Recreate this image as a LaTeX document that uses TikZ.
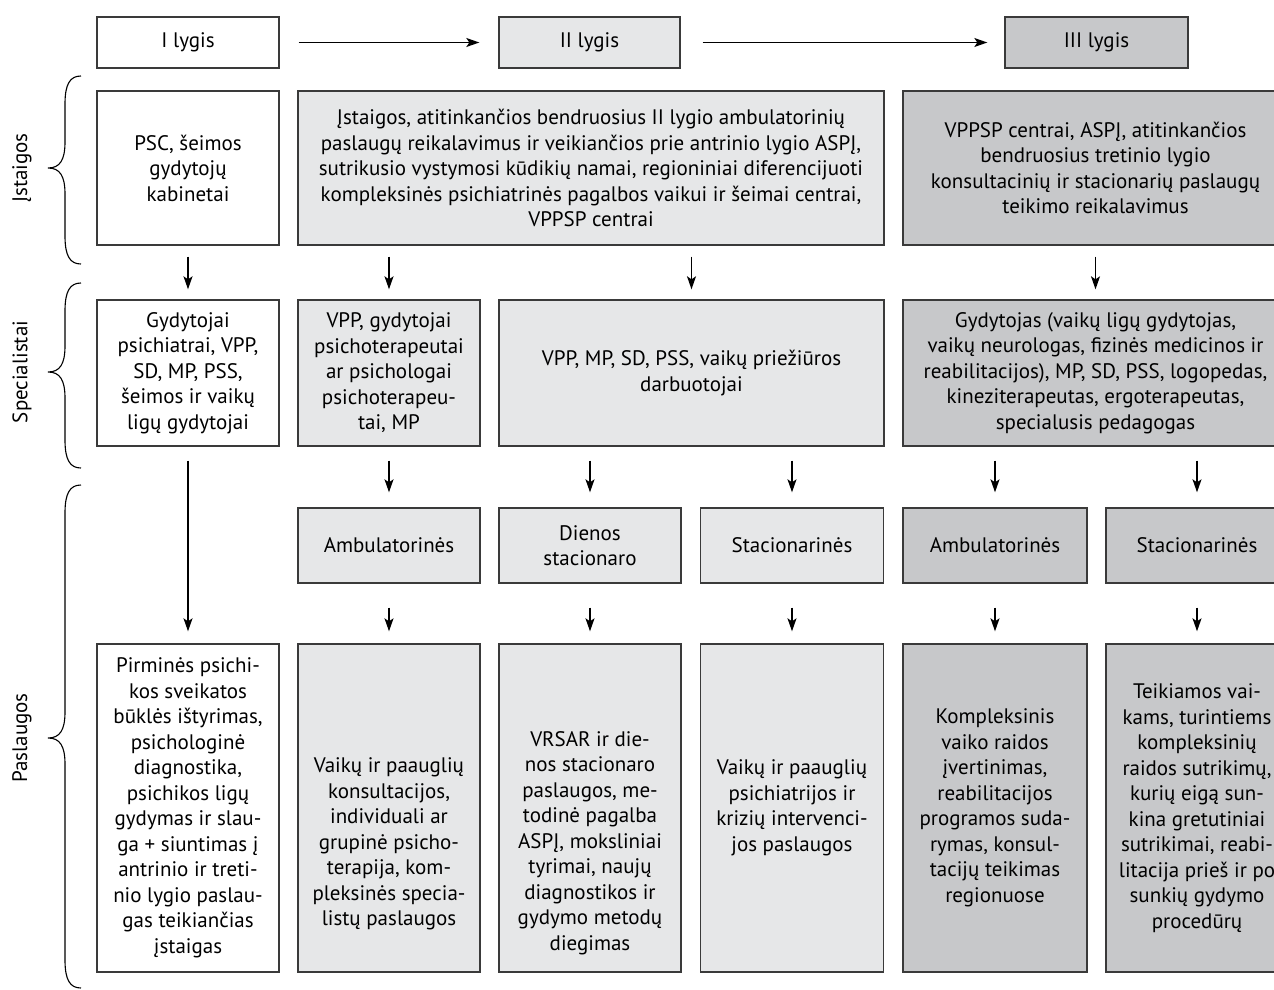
\documentclass[tikz,border=0pt]{standalone}
\usepackage{fontspec}
\setmainfont{PT Sans}
\usetikzlibrary{arrows.meta}
\definecolor{lightg}{HTML}{E6E7E8}
\definecolor{darkg}{HTML}{C7C8CA}
\definecolor{edge}{HTML}{3A3A3A}
\begin{document}
\begin{tikzpicture}[x=1pt,y=-1pt,
  box/.style={draw=edge, line width=1.4pt, rectangle, inner sep=0pt, align=center,
    font=\fontsize{21}{25.5}\selectfont},
  wbox/.style={box, fill=white},
  lbox/.style={box, fill=lightg},
  dbox/.style={box, fill=darkg},
  txt/.style={inner sep=0pt, align=center, font=\fontsize{21}{25.5}\selectfont},
  arr/.style={line width=1.3pt, draw=black, -{Stealth[length=13pt,width=9pt,inset=3pt]}},
  rowa/.style={arr, shorten <=11pt, shorten >=10pt},
  rowb/.style={arr, shorten <=14pt, shorten >=15pt},
  rowc/.style={arr, shorten <=24pt, shorten >=12pt},
  brc/.style={line width=1.1pt, draw=black},
  side/.style={rotate=90, inner sep=0pt, font=\fontsize{21}{25.5}\selectfont}
]
\useasboundingbox (0,0) rectangle (1274,990);

% title row
\node[wbox, minimum width=182pt, minimum height=51pt] (t1) at (188,42.5) {I lygis};
\node[lbox, minimum width=181pt, minimum height=51pt] (t2) at (589.5,42.5) {II lygis};
\node[dbox, minimum width=183pt, minimum height=51pt] (t3) at (1096.5,42.5) {III lygis};
\draw[arr, shorten <=19pt, shorten >=19pt] (t1.east) -- (t2.west);
\draw[arr, shorten <=22pt, shorten >=17pt] (t2.east) -- (t3.west);

% institutions row
\node[wbox, minimum width=182pt, minimum height=154pt] (i1) at (188,168) {PSC, šeimos\\gydytojų\\kabinetai};
\node[lbox, minimum width=586pt, minimum height=154pt] (i2) at (591,168) {Įstaigos, atitinkančios bendruosius II lygio ambulatorinių\\paslaugų reikalavimus ir veikiančios prie antrinio lygio ASPĮ,\\sutrikusio vystymosi kūdikių namai, regioniniai diferencijuoti\\kompleksinės psichiatrinės pagalbos vaikui ir šeimai centrai,\\VPPSP centrai};
\node[dbox, minimum width=385pt, minimum height=154pt] (i3) at (1095.5,168) {VPPSP centrai, ASPĮ, atitinkančios\\bendruosius tretinio lygio\\konsultacinių ir stacionarių paslaugų\\teikimo reikalavimus};

% specialists row
\node[wbox, minimum width=182pt, minimum height=146pt] (s1) at (188,373) {Gydytojai\\psichiatrai, VPP,\\SD, MP, PSS,\\šeimos ir vaikų\\ligų gydytojai};
\node[lbox, minimum width=182pt, minimum height=146pt] (s2) at (389,373) {VPP, gydytojai\\psichoterapeutai\\ar psichologai\\psichoterapeu-\\tai, MP};
\node[lbox, minimum width=385pt, minimum height=146pt] (s3) at (691.5,373) {VPP, MP, SD, PSS, vaikų priežiūros\\darbuotojai};
\node[dbox, minimum width=385pt, minimum height=146pt] (s4) at (1095.5,373) {Gydytojas (vaikų ligų gydytojas,\\vaikų neurologas, fizinės medicinos ir\\reabilitacijos), MP, SD, PSS, logopedas,\\kineziterapeutas, ergoterapeutas,\\specialusis pedagogas};

% types row
\node[lbox, minimum width=182pt, minimum height=75pt] (a2) at (389,545.5) {Ambulatorinės};
\node[lbox, minimum width=182pt, minimum height=75pt] (a3) at (590,545.5) {Dienos\\stacionaro};
\node[lbox, minimum width=183pt, minimum height=75pt] (a4) at (792,545.5) {Stacionarinės};
\node[dbox, minimum width=184pt, minimum height=75pt] (a5) at (995,545.5) {Ambulatorinės};
\node[dbox, minimum width=182pt, minimum height=75pt] (a6) at (1197,545.5) {Stacionarinės};

% services row
\node[wbox, minimum width=182pt, minimum height=328pt] (p1) at (188,808) {Pirminės psichi-\\kos sveikatos\\būklės ištyrimas,\\psichologinė\\diagnostika,\\psichikos ligų\\gydymas ir slau-\\ga + siuntimas į\\antrinio ir treti-\\nio lygio paslau-\\gas teikiančias\\įstaigas};
\node[lbox, minimum width=182pt, minimum height=328pt] (p2) at (389,808) {};
\node[txt] (p2t) at (389,844) {Vaikų ir paauglių\\konsultacijos,\\individuali ar\\grupinė psicho-\\terapija, kom-\\pleksinės specia-\\listų paslaugos};
\node[lbox, minimum width=182pt, minimum height=328pt] (p3) at (590,808) {};
\node[txt] (p3t) at (590,843) {VRSAR ir die-\\nos stacionaro\\paslaugos, me-\\todinė pagalba\\ASPĮ, moksliniai\\tyrimai, naujų\\diagnostikos ir\\gydymo metodų\\diegimas};
\node[lbox, minimum width=183pt, minimum height=328pt] (p4) at (792,808) {Vaikų ir paauglių\\psichiatrijos ir\\krizių intervenci-\\jos paslaugos};
\node[dbox, minimum width=184pt, minimum height=328pt] (p5) at (995,808) {Kompleksinis\\vaiko raidos\\įvertinimas,\\reabilitacijos\\programos suda-\\rymas, konsul-\\tacijų teikimas\\regionuose};
\node[dbox, minimum width=182pt, minimum height=328pt] (p6) at (1197,808) {Teikiamos vai-\\kams, turintiems\\kompleksinių\\raidos sutrikimų,\\kurių eigą sun-\\kina gretutiniai\\sutrikimai, reabi-\\litacija prieš ir po\\sunkių gydymo\\procedūrų};

% arrows row 1 -> 2
\draw[rowa] (i1.south) -- (s1.north);
\draw[rowa] (i2.south -| s2.north) -- (s2.north);
\draw[rowa] (i2.south -| s3.north) -- (s3.north);
\draw[rowa] (i3.south) -- (s4.north);

% arrows row 2 -> 3
\draw[arr, shorten <=14pt, shorten >=12pt] (s1.south) -- (p1.north);
\draw[rowb] (s2.south) -- (a2.north);
\draw[rowb] (s3.south -| a3.north) -- (a3.north);
\draw[rowb] (s3.south -| a4.north) -- (a4.north);
\draw[rowb] (s4.south -| a5.north) -- (a5.north);
\draw[rowb] (s4.south -| a6.north) -- (a6.north);

% arrows row 3 -> 4
\draw[rowc] (a2.south) -- (p2.north);
\draw[rowc] (a3.south) -- (p3.north);
\draw[rowc] (a4.south) -- (p4.north);
\draw[rowc] (a5.south) -- (p5.north);
\draw[rowc] (a6.south) -- (p6.north);

% braces
\draw[brc] (81,76) .. controls (70,76) and (65,84) .. (65,104) -- (65,142)
  .. controls (65,160) and (60,168) .. (48,168)
  .. controls (60,168) and (65,176) .. (65,194) -- (65,236)
  .. controls (65,256) and (70,264) .. (81,264);
\draw[brc] (81,283) .. controls (70,283) and (65,291) .. (65,311) -- (65,346)
  .. controls (65,364) and (60,372) .. (48,372)
  .. controls (60,372) and (65,380) .. (65,398) -- (65,440)
  .. controls (65,460) and (70,468) .. (81,468);
\draw[brc] (81,485) .. controls (70,485) and (65,493) .. (65,513) -- (65,712)
  .. controls (65,730) and (60,738) .. (48,738)
  .. controls (60,738) and (65,746) .. (65,764) -- (65,960)
  .. controls (65,980) and (70,988) .. (81,988);

% side labels
\node[side] (l1) at (22,168) {Įstaigos};
\node[side] (l2) at (22,372) {Specialistai};
\node[side] (l3) at (22,738) {Paslaugos};
\end{tikzpicture}
\end{document}
